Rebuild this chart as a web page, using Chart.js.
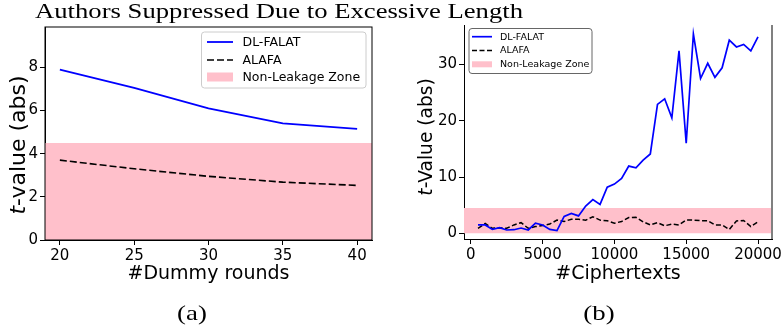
<!DOCTYPE html>
<html>
<head>
<meta charset="utf-8">
<script src="https://cdn.jsdelivr.net/npm/chart.js@4.4.0/dist/chart.umd.min.js"></script>
<style>
  body { margin: 0; background: #fff; width: 783px; height: 333px; overflow: hidden; position: relative; }
  canvas { position: absolute; top: 0; }
  #left { left: 0; }
  #right { left: 400px; }
  #title { position: absolute; left: 35px; top: 1px; font-family: 'Liberation Serif'; font-size: 21px; line-height: 21px; white-space: nowrap; transform-origin: 0 0; color: #000; }
  .cap { position: absolute; top: 302px; width: 60px; text-align: center; font-family: 'Liberation Serif'; font-size: 22px; line-height: 22px; color: #000; transform: scaleX(1.22); }
</style>
</head>
<body>
<canvas id="left" width="400" height="333"></canvas>
<canvas id="right" width="383" height="333"></canvas>
<div id="title">Authors Suppressed Due to Excessive Length</div>
<div class="cap" style="left:162px">(a)</div>
<div class="cap" style="left:569px">(b)</div>
<script>
// (a) t-value vs number of dummy rounds
const dummyRounds = [20, 25, 30, 35, 40];
const dlFalatRounds = [7.9, 7.05, 6.1, 5.4, 5.15];
const alafaRounds = [3.7, 3.3, 2.95, 2.68, 2.53];
const roundTicks = [20, 25, 30, 35, 40];
const roundYTicks = [0, 2, 4, 6, 8];

// (b) t-value vs number of ciphertexts
const cipherCounts = [500, 1000, 1500, 2000, 2500, 3000, 3500, 4000, 4500, 5000,
  5500, 6000, 6500, 7000, 7500, 8000, 8500, 9000, 9500, 10000,
  10500, 11000, 11500, 12000, 12500, 13000, 13500, 14000, 14500, 15000,
  15500, 16000, 16500, 17000, 17500, 18000, 18500, 19000, 19500, 20000];
const dlFalatCipher = [1.5, 1.5, 0.7, 1.0, 0.6, 0.65, 0.95, 0.6, 1.8, 1.5,
  0.7, 0.5, 3.0, 3.55, 3.1, 4.85, 6.0, 5.15, 8.2, 8.75,
  9.75, 11.95, 11.65, 13.0, 14.1, 22.9, 23.9, 20.5, 32.4, 16.0,
  35.4, 27.5, 30.2, 27.7, 29.4, 34.3, 33.1, 33.55, 32.4, 34.9];
const alafaCipher = [0.9, 1.75, 0.9, 1.0, 0.9, 1.5, 1.9, 0.9, 1.2, 1.4,
  1.65, 2.35, 2.1, 2.5, 2.5, 2.35, 2.95, 2.35, 2.25, 1.8,
  2.1, 2.8, 2.85, 2.05, 1.5, 1.9, 1.35, 1.65, 1.5, 2.4,
  2.35, 2.25, 2.25, 1.5, 1.5, 0.7, 2.2, 2.3, 1.2, 2.05];
const cipherTicks = [0, 5000, 10000, 15000, 20000];
const cipherYTicks = [0, 10, 20, 30];

const zoneLimit = 4.5;
const seriesNames = ['DL-FALAT', 'ALAFA', 'Non-Leakage Zone'];

const pts = (xs, ys) => xs.map((x, i) => ({ x: x, y: ys[i] }));

// scale the serif title to the width it has in the figure
(function () {
  const el = document.getElementById('title');
  const c = document.createElement('canvas').getContext('2d');
  c.font = "21px 'Liberation Serif'";
  const w = c.measureText(el.textContent).width;
  el.style.transform = 'scaleX(' + (488 / w) + ')';
})();

const legendBox = {
  id: 'legendBox',
  afterDraw(chart, args, o) {
    const ctx = chart.ctx;
    ctx.save();
    ctx.beginPath();
    ctx.roundRect(o.x, o.y, o.w, o.h, 3);
    ctx.fillStyle = 'rgba(255,255,255,0.8)';
    ctx.fill();
    ctx.strokeStyle = o.edge;
    ctx.lineWidth = 1;
    ctx.stroke();
    ctx.font = o.size + "px 'DejaVu Sans'";
    ctx.textBaseline = 'middle';
    chart.data.datasets.forEach((ds, i) => {
      const y = o.rows[i];
      if (ds.fill) {
        ctx.fillStyle = ds.backgroundColor;
        ctx.fillRect(o.hx0, y - o.rectH / 2, o.hx1 - o.hx0, o.rectH);
      } else {
        ctx.beginPath();
        ctx.setLineDash(ds.borderDash || []);
        ctx.strokeStyle = ds.borderColor;
        ctx.lineWidth = ds.borderWidth;
        ctx.moveTo(o.hx0, y);
        ctx.lineTo(o.hx1, y);
        ctx.stroke();
        ctx.setLineDash([]);
      }
      ctx.fillStyle = '#000';
      ctx.fillText(ds.label, o.tx, y + 0.5);
    });
    ctx.restore();
  }
};

const frame = {
  id: 'frame',
  afterDraw(chart, args, o) {
    const { left, right, top, bottom } = chart.chartArea;
    const ctx = chart.ctx;
    ctx.save();
    if (o.box) {
      ctx.strokeStyle = '#000';
      ctx.lineWidth = 1;
      ctx.strokeRect(left, top, right - left, bottom - top);
    }
    if (o.rightEdge) {
      ctx.strokeStyle = o.rightEdge;
      ctx.lineWidth = 2;
      ctx.beginPath();
      ctx.moveTo(right, top);
      ctx.lineTo(right, bottom);
      ctx.stroke();
    }
    ctx.restore();
  }
};

const yTitle = {
  id: 'yTitle',
  afterDraw(chart, args, o) {
    const ctx = chart.ctx;
    ctx.save();
    ctx.translate(o.x, o.y);
    ctx.rotate(-Math.PI / 2);
    ctx.fillStyle = '#000';
    ctx.textBaseline = 'middle';
    const fi = "italic " + o.size + "px 'DejaVu Sans'";
    const fn = o.size + "px 'DejaVu Sans'";
    ctx.font = fi;
    const w1 = ctx.measureText('t').width;
    ctx.font = fn;
    const w2 = ctx.measureText(o.rest).width;
    let x = -(w1 + w2) / 2;
    ctx.font = fi;
    ctx.fillText('t', x, 0);
    ctx.font = fn;
    ctx.fillText(o.rest, x + w1, 0);
    ctx.restore();
  }
};

function axis(min, max, ticks, fit, title, titlePad) {
  return {
    type: 'linear',
    min: min,
    max: max,
    afterBuildTicks: s => { s.ticks = ticks.map(v => ({ value: v })); },
    afterFit: s => {
      if (s.isHorizontal()) { s.height = fit; s.paddingLeft = 0; s.paddingRight = 0; }
      else { s.width = fit; s.paddingTop = 0; s.paddingBottom = 0; }
    },
    grid: { drawOnChartArea: false, drawTicks: true, tickLength: 5, tickColor: '#000', tickWidth: 1 },
    border: { color: '#000', width: 1 },
    ticks: {
      color: '#000', padding: 2, maxRotation: 0, autoSkip: false,
      font: { family: 'DejaVu Sans', size: 15 },
      callback: v => String(v)
    },
    title: {
      display: !!title, text: title, color: '#000',
      font: { family: 'DejaVu Sans', size: 19 },
      padding: { top: 0, bottom: titlePad }
    }
  };
}

function datasets(xs, a, b, xmin, xmax, lw, dash) {
  return [
    { label: seriesNames[0], data: pts(xs, a), borderColor: '#0000ff', borderWidth: lw, pointRadius: 0, fill: false, tension: 0 },
    { label: seriesNames[1], data: pts(xs, b), borderColor: '#000000', borderWidth: lw - 0.2, borderDash: dash, pointRadius: 0, fill: false, tension: 0 },
    { label: seriesNames[2], data: [{ x: xmin, y: zoneLimit }, { x: xmax, y: zoneLimit }], borderWidth: 0, borderColor: 'pink', backgroundColor: 'pink', pointRadius: 0, fill: 'origin' }
  ];
}

new Chart(document.getElementById('left'), {
  type: 'line',
  data: { datasets: datasets(dummyRounds, dlFalatRounds, alafaRounds, 19, 41, 1.8, [7, 3]) },
  options: {
    responsive: false,
    animation: false,
    layout: { padding: { top: 27, right: 28, left: 0, bottom: 0 } },
    scales: {
      x: axis(19, 41, roundTicks, 93, '#Dummy rounds', 48),
      y: axis(0, 9.87, roundYTicks, 45, '', 0)
    },
    plugins: {
      legend: { display: false },
      tooltip: { enabled: false },
      filler: { drawTime: 'beforeDatasetsDraw' },
      frame: { box: true },
      yTitle: { x: 19, y: 145, size: 22, rest: '-value (abs)' },
      legendBox: { x: 201.5, y: 32, w: 164.5, h: 56, edge: '#cccccc', rows: [42, 60, 77], hx0: 207, hx1: 233, tx: 242.5, rectH: 9, size: 12.5 }
    }
  },
  plugins: [frame, yTitle, legendBox]
});

new Chart(document.getElementById('right'), {
  type: 'line',
  data: { datasets: datasets(cipherCounts, dlFalatCipher, alafaCipher, -475, 20975, 1.7, [5, 2.5]) },
  options: {
    responsive: false,
    animation: false,
    layout: { padding: { top: 25, right: 11, left: 0, bottom: 0 } },
    scales: {
      x: axis(-475, 20975, cipherTicks, 94, '#Ciphertexts', 48),
      y: axis(-1, 37, cipherYTicks, 64, '', 0)
    },
    plugins: {
      legend: { display: false },
      tooltip: { enabled: false },
      filler: { drawTime: 'beforeDatasetsDraw' },
      frame: { box: false, rightEdge: '#808080' },
      yTitle: { x: 27, y: 137, size: 18.6, rest: '-Value (abs)' },
      legendBox: { x: 69, y: 28.5, w: 123, h: 45, edge: '#666666', rows: [36.7, 50.5, 64.3], hx0: 72, hx1: 92, tx: 100, rectH: 6, size: 9.5 }
    }
  },
  plugins: [frame, yTitle, legendBox]
});
</script>
</body>
</html>
